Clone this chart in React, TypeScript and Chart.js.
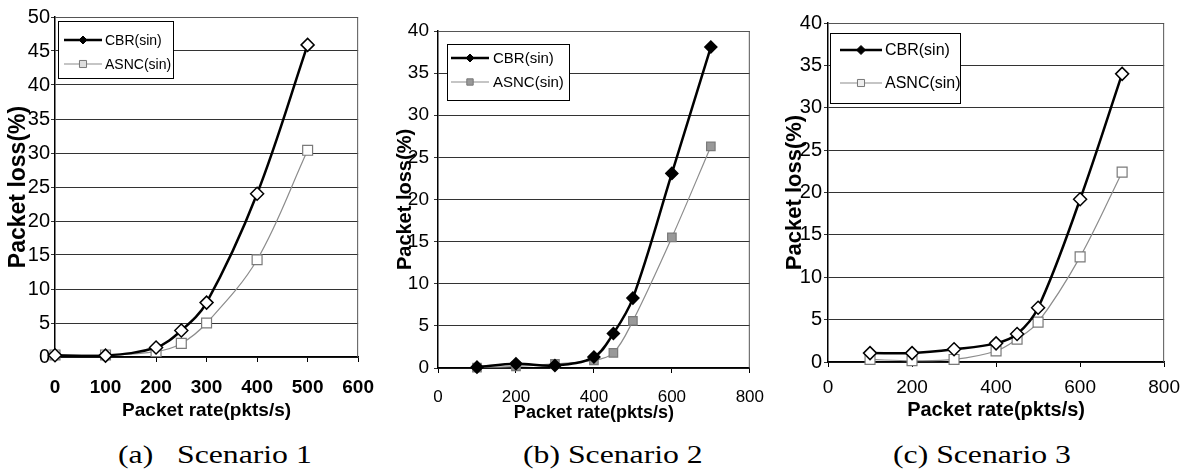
import React, { useEffect, useRef } from 'react';
import { Chart, registerables } from 'chart.js';

Chart.register(...registerables);

// ---------- data ----------
const seriesNames = ['CBR(sin)', 'ASNC(sin)'];
const xTitle = 'Packet rate(pkts/s)';
const yTitle = 'Packet loss(%)';
const captions = ['(a)   Scenario 1', '(b) Scenario 2', '(c) Scenario 3'];

const rateA = [0, 100, 200, 250, 300, 400, 500];
const cbrA = [0.25, 0.2, 1.4, 3.9, 8, 24, 45.9];
const asncA = [0.3, 0.3, 0.8, 2, 5, 14.3, 30.4];

const rateB = [100, 200, 300, 400, 450, 500, 600, 700];
const cbrB = [0.1, 0.5, 0.3, 1.3, 4.1, 8.3, 23.1, 38.1];
const asncB = [0.05, 0.2, 0.5, 0.9, 1.8, 5.6, 15.5, 26.3];

const rateC = [100, 200, 300, 400, 450, 500, 600, 700];
const cbrC = [1.05, 1.05, 1.5, 2.2, 3.3, 6.4, 19.2, 34];
const asncC = [0.3, 0.15, 0.3, 1.3, 2.7, 4.7, 12.4, 22.4];

const xMaxA = 600, xStepA = 100, yMaxA = 50;
const xMaxB = 800, xStepB = 200, yMaxB = 40;
const xMaxC = 800, xStepC = 200, yMaxC = 40;
const yStep = 5;

// ---------- helpers ----------
const SANS = "'Liberation Sans', Arial, sans-serif";

function drawMarker(ctx: CanvasRenderingContext2D, style: string, x: number, y: number, r: number, fill: string, stroke: string, lw: number) {
  ctx.save();
  ctx.beginPath();
  if (style === 'rectRot') {
    ctx.moveTo(x, y - r);
    ctx.lineTo(x + r, y);
    ctx.lineTo(x, y + r);
    ctx.lineTo(x - r, y);
    ctx.closePath();
  } else {
    const s = r * Math.SQRT1_2;
    ctx.rect(x - s, y - s, 2 * s, 2 * s);
  }
  ctx.fillStyle = fill;
  ctx.fill();
  ctx.strokeStyle = stroke;
  ctx.lineWidth = lw;
  ctx.stroke();
  ctx.restore();
}

const framePlugin = {
  id: 'frame',
  beforeDatasetsDraw(chart: any, _a: any, opts: any) {
    const { ctx, chartArea } = chart;
    ctx.save();
    ctx.strokeStyle = opts.color || '#444';
    ctx.lineWidth = 1;
    ctx.beginPath();
    ctx.moveTo(chartArea.left, chartArea.top + 0.5);
    ctx.lineTo(chartArea.right - 0.5, chartArea.top + 0.5);
    ctx.lineTo(chartArea.right - 0.5, chartArea.bottom);
    ctx.stroke();
    ctx.restore();
  },
};

const boxLegendPlugin = {
  id: 'boxLegend',
  afterDatasetsDraw(chart: any, _a: any, opts: any) {
    const { ctx, chartArea } = chart;
    const x = Math.round(chartArea.left + opts.dx);
    const y = Math.round(chartArea.top + opts.dy);
    ctx.save();
    ctx.fillStyle = '#fff';
    ctx.fillRect(x, y, opts.w, opts.h);
    ctx.strokeStyle = '#000';
    ctx.lineWidth = 1;
    ctx.strokeRect(x + 0.5, y + 0.5, opts.w, opts.h);
    chart.data.datasets.forEach((ds: any, i: number) => {
      const ry = y + opts.rows[i];
      ctx.strokeStyle = ds.borderColor;
      ctx.lineWidth = ds.borderWidth;
      ctx.beginPath();
      ctx.moveTo(x + opts.l1, ry);
      ctx.lineTo(x + opts.l2, ry);
      ctx.stroke();
      const m = opts.markers[i];
      drawMarker(ctx, ds.pointStyle, x + (opts.l1 + opts.l2) / 2, ry, m.r, m.fill, m.stroke, 1);
      ctx.fillStyle = '#000';
      ctx.font = opts.font;
      ctx.textBaseline = 'middle';
      ctx.textAlign = 'left';
      ctx.fillText(ds.label, x + opts.tx, ry + 1);
    });
    ctx.restore();
  },
};

type PanelProps = {
  left: number; width: number; height: number;
  xs: number[]; cbr: number[]; asnc: number[];
  xMax: number; xStep: number; yMax: number;
  padTop: number; padRight: number; yWidth: number; xHeight: number;
  yTickSize: number; xTickSize: number; yTickPad: number; xTickPad: number; xTickWeight: string;
  xTitleSize: number; xTitlePad: number; yTitleSize: number; yTitlePad: number;
  cbrFill: string; cbrRadius: number; asncFill: string; asncRadius: number;
  legend: any;
};

function Panel(p: PanelProps) {
  const ref = useRef<HTMLCanvasElement | null>(null);
  useEffect(() => {
    if (!ref.current) return;
    const chart = new Chart(ref.current, {
      type: 'line',
      data: {
        datasets: [
          {
            label: seriesNames[0],
            data: p.xs.map((x, i) => ({ x, y: p.cbr[i] })),
            borderColor: '#000',
            borderWidth: 2.5,
            pointStyle: 'rectRot',
            pointRadius: p.cbrRadius,
            pointBackgroundColor: p.cbrFill,
            pointBorderColor: '#000',
            pointBorderWidth: 1.5,
            tension: 0.35,
            clip: false as any,
          },
          {
            label: seriesNames[1],
            data: p.xs.map((x, i) => ({ x, y: p.asnc[i] })),
            borderColor: '#8c8c8c',
            borderWidth: 1.2,
            pointStyle: 'rect',
            pointRadius: p.asncRadius,
            pointBackgroundColor: p.asncFill,
            pointBorderColor: '#7a7a7a',
            pointBorderWidth: 1.2,
            tension: 0.35,
            clip: false as any,
          },
        ],
      },
      options: {
        animation: false,
        responsive: true,
        maintainAspectRatio: false,
        layout: { padding: { top: p.padTop, right: p.padRight, left: 0, bottom: 0 } },
        plugins: {
          legend: { display: false },
          tooltip: { enabled: false },
          frame: { color: '#555' },
          boxLegend: p.legend,
        } as any,
        scales: {
          x: {
            type: 'linear',
            min: 0,
            max: p.xMax,
            afterFit: (s: any) => { s.height = p.xHeight; },
            ticks: {
              stepSize: p.xStep,
              color: '#000',
              padding: p.xTickPad,
              maxRotation: 0,
              font: { family: SANS, size: p.xTickSize, weight: p.xTickWeight, lineHeight: 1 },
            },
            grid: { drawOnChartArea: false, drawTicks: true, tickLength: 5, color: '#000' },
            border: { color: '#000', width: 1.5 },
            title: {
              display: true,
              text: xTitle,
              color: '#000',
              padding: { top: 0, bottom: p.xTitlePad },
              font: { family: SANS, size: p.xTitleSize, weight: 'bold', lineHeight: 1 },
            },
          },
          y: {
            min: 0,
            max: p.yMax,
            afterFit: (s: any) => { s.width = p.yWidth; },
            ticks: {
              stepSize: yStep,
              color: '#000',
              padding: p.yTickPad,
              font: { family: SANS, size: p.yTickSize, lineHeight: 1 },
            },
            grid: { color: '#333', lineWidth: 1, drawTicks: true, tickLength: 4 },
            border: { color: '#000', width: 1.5 },
            title: {
              display: true,
              text: yTitle,
              color: '#000',
              padding: { top: p.yTitlePad, bottom: 0 },
              font: { family: SANS, size: p.yTitleSize, weight: 'bold', lineHeight: 1 },
            },
          },
        },
      } as any,
      plugins: [framePlugin, boxLegendPlugin],
    });
    return () => chart.destroy();
  }, []);
  return (
    <div style={{ position: 'absolute', left: p.left, top: 0, width: p.width, height: p.height }}>
      <canvas ref={ref} />
    </div>
  );
}

const captionLefts = [118, 523, 893];

export default function App() {
  return (
    <div style={{ position: 'absolute', left: 0, top: 0, width: 1191, height: 476, background: '#fff', overflow: 'hidden' }}>
      <Panel
        left={0} width={390} height={425}
        xs={rateA} cbr={cbrA} asnc={asncA}
        xMax={xMaxA} xStep={xStepA} yMax={yMaxA}
        padTop={17} padRight={22} yWidth={55} xHeight={68}
        yTickSize={20} xTickSize={19} yTickPad={1} xTickPad={16} xTickWeight="bold"
        xTitleSize={19} xTitlePad={5} yTitleSize={23} yTitlePad={7}
        cbrFill="#fff" cbrRadius={6.5} asncFill="#fff" asncRadius={7}
        legend={{
          dx: 3, dy: 4, w: 115, h: 57, rows: [19, 43], l1: 6, l2: 44, tx: 47,
          font: `14px ${SANS}`,
          markers: [{ r: 4, fill: '#000', stroke: '#000' }, { r: 5, fill: '#ddd', stroke: '#777' }],
        }}
      />
      <Panel
        left={390} width={390} height={425}
        xs={rateB} cbr={cbrB} asnc={asncB}
        xMax={xMaxB} xStep={xStepB} yMax={yMaxB}
        padTop={31} padRight={20} yWidth={48} xHeight={57}
        yTickSize={19} xTickSize={17} yTickPad={5} xTickPad={16} xTickWeight="normal"
        xTitleSize={18} xTitlePad={3} yTitleSize={20} yTitlePad={5}
        cbrFill="#000" cbrRadius={6} asncFill="#999" asncRadius={6}
        legend={{
          dx: 9, dy: 13, w: 122, h: 56, rows: [14, 38], l1: 4, l2: 42, tx: 46,
          font: `15px ${SANS}`,
          markers: [{ r: 4, fill: '#000', stroke: '#000' }, { r: 4.5, fill: '#999', stroke: '#777' }],
        }}
      />
      <Panel
        left={780} width={411} height={425}
        xs={rateC} cbr={cbrC} asnc={asncC}
        xMax={xMaxC} xStep={xStepC} yMax={yMaxC}
        padTop={23} padRight={22} yWidth={48} xHeight={63}
        yTickSize={20} xTickSize={19} yTickPad={2} xTickPad={11} xTickWeight="normal"
        xTitleSize={20} xTitlePad={5} yTitleSize={22} yTitlePad={4}
        cbrFill="#fff" cbrRadius={6.5} asncFill="#fff" asncRadius={7}
        legend={{
          dx: 2, dy: 10, w: 130, h: 70, rows: [17, 50], l1: 10, l2: 52, tx: 55,
          font: `16px ${SANS}`,
          markers: [{ r: 4.5, fill: '#000', stroke: '#000' }, { r: 5, fill: '#eee', stroke: '#777' }],
        }}
      />
      {captions.map((c, i) => (
        <div
          key={i}
          style={{
            position: 'absolute',
            left: captionLefts[i],
            top: 442,
            fontFamily: "'Liberation Serif', 'Times New Roman', serif",
            fontSize: 26,
            lineHeight: '26px',
            whiteSpace: 'pre',
            color: '#000',
            transform: 'scaleX(1.22)',
            transformOrigin: 'left top',
          }}
        >
          {c}
        </div>
      ))}
    </div>
  );
}
